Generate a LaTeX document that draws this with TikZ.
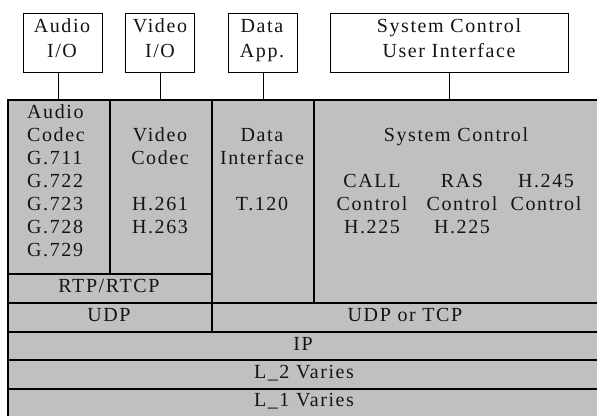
\documentclass[tikz,border=0pt]{standalone}
\usepackage{fontspec}
\setmainfont{Liberation Serif}[LetterSpace=8]
\definecolor{stackgray}{RGB}{192,192,192}
\definecolor{inkgray}{RGB}{20,20,20}
\begin{document}
\begin{tikzpicture}[x=1pt, y=-1pt,
  layer/.style={draw=black, line width=1.6pt, fill=stackgray, inner sep=0pt,
    anchor=north west},
  iobox/.style={draw=black, line width=1.3pt, fill=white, inner sep=0pt,
    anchor=north west},
  txt/.style={inner sep=0pt, text=inkgray, font=\fontsize{20}{23}\selectfont},
  link/.style={draw=black, line width=1pt}]
\useasboundingbox (0,0) rectangle (597,415);
\clip (0,0) rectangle (597,415);

% protocol stack cells
\node[layer, minimum width=102pt, minimum height=174pt] (audio) at (7,99) {};
\node[layer, minimum width=102pt, minimum height=174pt] (video) at (109,99) {};
\node[layer, minimum width=102pt, minimum height=203pt] (data) at (211,99) {};
\node[layer, minimum width=292pt, minimum height=203pt] (sysctl) at (313,99) {};
\node[layer, minimum width=204pt, minimum height=29pt] (rtp) at (7,273) {};
\node[layer, minimum width=204pt, minimum height=29pt] (udp) at (7,302) {};
\node[layer, minimum width=394pt, minimum height=29pt] (udptcp) at (211,302) {};
\node[layer, minimum width=598pt, minimum height=29pt] (ip) at (7,331) {};
\node[layer, minimum width=598pt, minimum height=29pt] (ltwo) at (7,359) {};
\node[layer, minimum width=598pt, minimum height=32pt] (lone) at (7,388) {};

% application boxes on top
\node[iobox, minimum width=79pt, minimum height=59pt] (audioio) at (23,13) {};
\node[iobox, minimum width=69pt, minimum height=59pt] (videoio) at (125,13) {};
\node[iobox, minimum width=69pt, minimum height=59pt] (dataapp) at (228,13) {};
\node[iobox, minimum width=238pt, minimum height=59pt] (sysui) at (330,13) {};

% connectors from the boxes down to the stack
\draw[link] (58,0 |- audioio.south) -- (58,0 |- audio.north);
\draw[link] (videoio.south) -- (videoio.south |- video.north);
\draw[link] (dataapp.south) -- (dataapp.south |- data.north);
\draw[link] (sysui.south) -- (sysui.south |- sysctl.north);

% box labels
\node[txt, anchor=base] (t-aio1) at (62,32) {Audio};
\node[txt, anchor=base] (t-aio2) at (62,57) {I/O};
\node[txt, anchor=base] (t-vio1) at (160,32) {Video};
\node[txt, anchor=base] (t-vio2) at (160,57) {I/O};
\node[txt, anchor=base] (t-dap1) at (262,32) {Data};
\node[txt, anchor=base] (t-dap2) at (262,57) {App.};
\node[txt, anchor=base] (t-sui1) at (449,32) {System Control};
\node[txt, anchor=base] (t-sui2) at (449,57) {User Interface};

% audio codec column
\foreach \t [count=\i from 0] in {Audio,Codec,G.711,G.722,G.723,G.728,G.729}
  \node[txt, anchor=base west] (t-ac\i) at (27,118+23*\i) {\t};

% video codec column
\node[txt, anchor=base] (t-vc1) at (160,141) {Video};
\node[txt, anchor=base] (t-vc2) at (160,164) {Codec};
\node[txt, anchor=base] (t-vc3) at (160,210) {H.261};
\node[txt, anchor=base] (t-vc4) at (160,233) {H.263};

% data interface column
\node[txt, anchor=base] (t-di1) at (262,141) {Data};
\node[txt, anchor=base] (t-di2) at (262,164) {Interface};
\node[txt, anchor=base] (t-di3) at (262,210) {T.120};

% system control column
\node[txt, anchor=base] (t-sc) at (456,141) {System Control};
\node[txt, anchor=base] (t-call1) at (372,187) {CALL};
\node[txt, anchor=base] (t-call2) at (372,210) {Control};
\node[txt, anchor=base] (t-call3) at (372,233) {H.225};
\node[txt, anchor=base] (t-ras1) at (462,187) {RAS};
\node[txt, anchor=base] (t-ras2) at (462,210) {Control};
\node[txt, anchor=base] (t-ras3) at (462,233) {H.225};
\node[txt, anchor=base] (t-h1) at (546,187) {H.245};
\node[txt, anchor=base] (t-h2) at (546,210) {Control};

% lower layers
\node[txt, anchor=base] (t-rtp) at (109,292.5) {RTP/RTCP};
\node[txt, anchor=base] (t-udp) at (109,321.5) {UDP};
\node[txt, anchor=base] (t-udptcp) at (405,321.5) {UDP or TCP};
\node[txt, anchor=base] (t-ip) at (303,350.5) {IP};
\node[txt, anchor=base] (t-l2) at (304,378) {L\_2 Varies};
\node[txt, anchor=base] (t-l1) at (304,406.5) {L\_1 Varies};
\end{tikzpicture}
\end{document}
